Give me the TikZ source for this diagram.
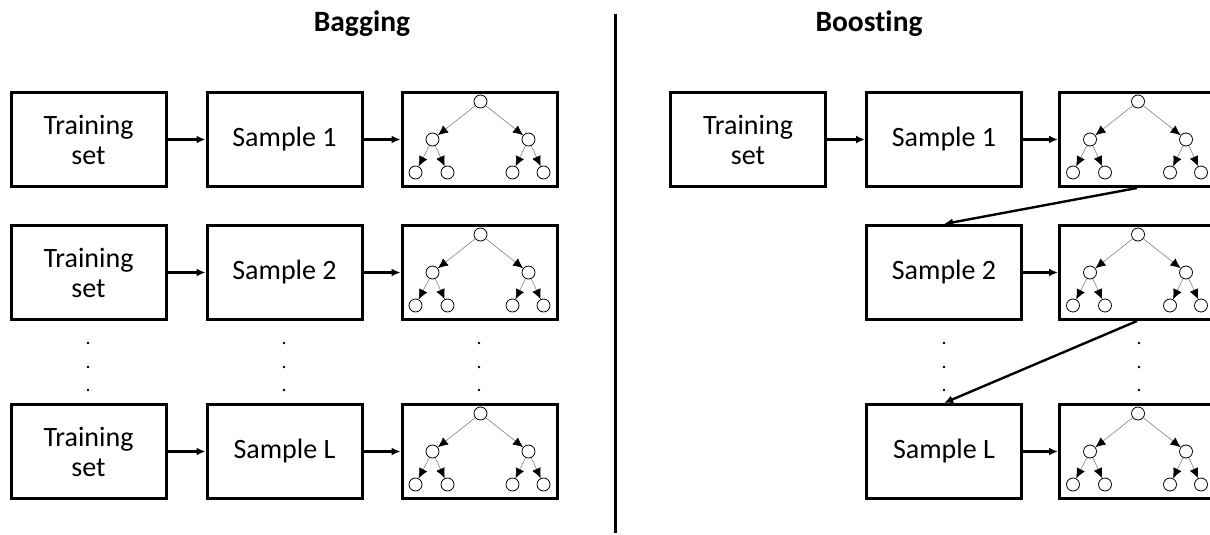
\documentclass[tikz,border=0pt]{standalone}
\usepackage{fontspec}
\setmainfont{Carlito}[Ligatures=NoCommon]
\usetikzlibrary{positioning,arrows.meta}
\tikzset{
	ensemble scheme/.style={
		x=1pt,y=-1pt, % one unit per pixel, y downwards
		node distance=38pt,
		font=\fontsize{28}{30}\selectfont,
		flow arrow/.style={
			line width=2.4pt,
			-{Latex[length=9pt,width=8pt]}
		},
		divider/.style={
			line width=3pt
		}
	},
	stage box/.style={
		rectangle,
		draw,
		line width=3pt,
		minimum width=155pt,
		minimum height=94pt,
		align=center
	},
	tree box/.style={
		stage box
	},
	tree node/.style={
		circle,
		draw,
		fill=white,
		line width=0.8pt,
		minimum size=13pt,
		inner sep=0pt
	},
	tree edge/.style={
		draw=gray,
		line width=0.6pt,
		-{Latex[length=10pt,width=9pt,color=black]}
	},
	panel title/.style={
		anchor=base,
		font=\fontsize{29.5}{32}\selectfont\bfseries
	},
	decision tree/.pic={
		\node[tree node] (-root) at (1,-38) {};
		\node[tree node] (-l) at (-47,0) {};
		\node[tree node] (-r) at (49,0) {};
		\node[tree node] (-ll) at (-64,33) {};
		\node[tree node] (-lr) at (-32,33) {};
		\node[tree node] (-rl) at (33,33) {};
		\node[tree node] (-rr) at (64,33) {};
		\foreach \p/\c in {root/l,root/r,l/ll,l/lr,r/rl,r/rr}
			\draw[tree edge] (-\p) -- (-\c);
	}
}
\begin{document}
\begin{tikzpicture}[ensemble scheme]
	\useasboundingbox (0,0) rectangle (1210,535);
	\clip (0,0) rectangle (1210,535);

	% titles and divider
	\node[panel title] (bagtitle) at (362,32) {Bagging};
	\node[panel title] (boosttitle) at (869,32) {Boosting};
	\draw[divider] (615,14) -- (615,533);

	% bagging
	\node[stage box] (bagtrain1) at (88.5,139.5) {Training\\set};
	\node[stage box, right=of bagtrain1] (bagsample1) {Sample 1};
	\node[tree box, right=37pt of bagsample1] (bagtree1) {};
	\node[stage box, below=36pt of bagtrain1] (bagtrain2) {Training\\set};
	\node[stage box, right=of bagtrain2] (bagsample2) {Sample 2};
	\node[tree box, right=37pt of bagsample2] (bagtree2) {};
	\node[stage box, below=82pt of bagtrain2] (bagtrainL) {Training\\set};
	\node[stage box, right=of bagtrainL] (bagsampleL) {Sample L};
	\node[tree box, right=37pt of bagsampleL] (bagtreeL) {};
	\foreach \i in {1,2,L} {
		\pic (bagdt\i) at (bagtree\i) {decision tree};
		\draw[flow arrow] (bagtrain\i) -- (bagsample\i);
		\draw[flow arrow] (bagsample\i) -- (bagtree\i);
	}

	% boosting
	\node[stage box] (boosttrain) at (748,139.5) {Training\\set};
	\node[stage box, right=of boosttrain] (boostsample1) {Sample 1};
	\node[tree box, right=35pt of boostsample1] (boosttree1) {};
	\node[stage box, below=36pt of boostsample1] (boostsample2) {Sample 2};
	\node[tree box, right=35pt of boostsample2] (boosttree2) {};
	\node[stage box, below=82pt of boostsample2] (boostsampleL) {Sample L};
	\node[tree box, right=35pt of boostsampleL] (boosttreeL) {};
	\foreach \i in {1,2,L} {
		\pic (boostdt\i) at (boosttree\i) {decision tree};
		\draw[flow arrow] (boostsample\i) -- (boosttree\i);
	}
	\draw[flow arrow] (boosttrain) -- (boostsample1);
	\draw[flow arrow] (boosttree1.south) -- (boostsample2.north);
	\draw[flow arrow] (boosttree2.south) -- (boostsampleL.north);

	% vertical dots
	\foreach \x in {88,284,479,944,1139}
		\foreach \y in {343,367,390}
			\fill (\x,\y) circle (1.4pt);
\end{tikzpicture}
\end{document}
